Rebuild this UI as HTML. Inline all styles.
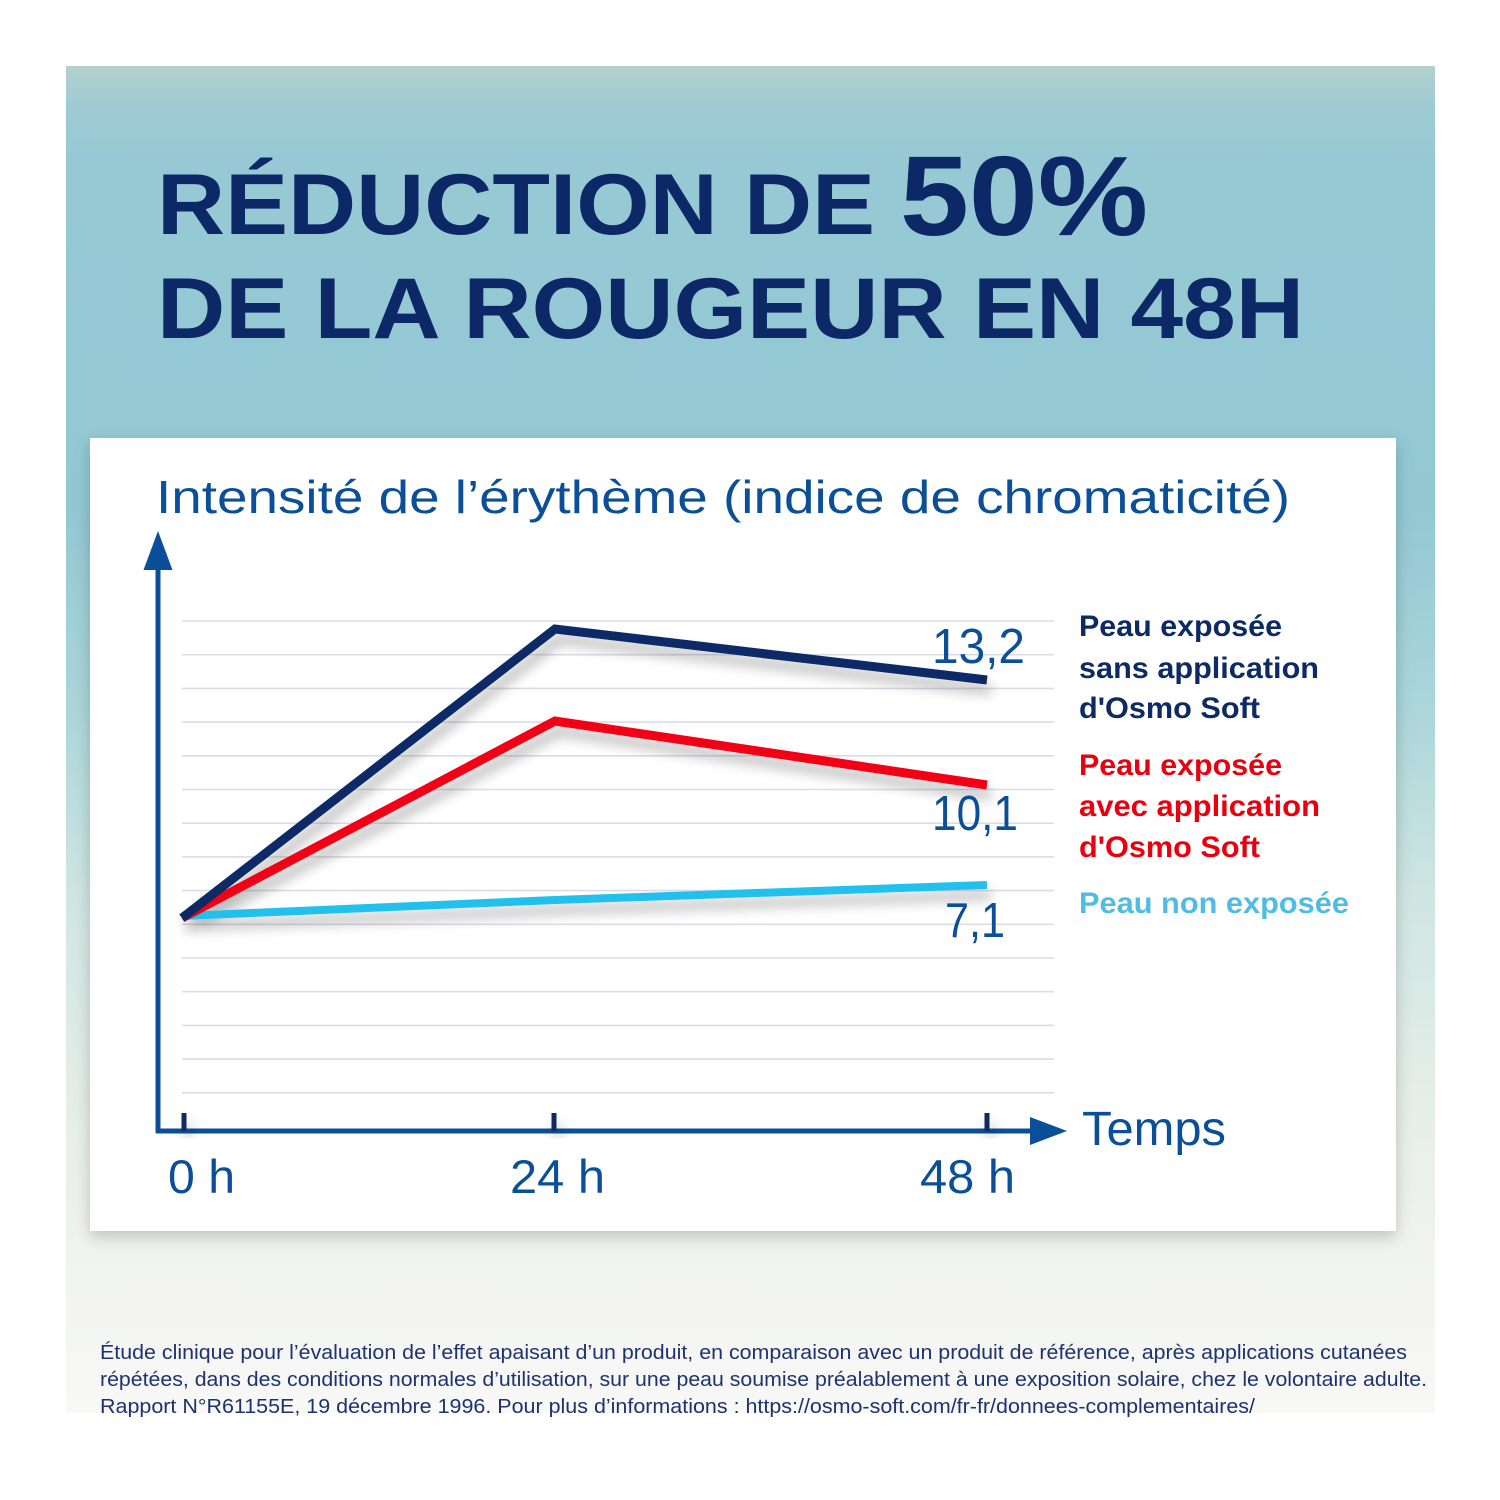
<!DOCTYPE html>
<html>
<head>
<meta charset="utf-8">
<style>
html,body{margin:0;padding:0;background:#ffffff;}
svg{display:block;}
</style>
</head>
<body>
<svg width="1500" height="1500" viewBox="0 0 1500 1500" xmlns="http://www.w3.org/2000/svg">
  <defs>
    <linearGradient id="bg" x1="0" y1="0" x2="0" y2="1" gradientUnits="objectBoundingBox">
      <stop offset="0" stop-color="#b3d0cc"/>
      <stop offset="0.03" stop-color="#9fcbd3"/>
      <stop offset="0.07" stop-color="#96c9d4"/>
      <stop offset="0.33" stop-color="#93c8d3"/>
      <stop offset="0.48" stop-color="#acd6da"/>
      <stop offset="0.62" stop-color="#d0e6e2"/>
      <stop offset="0.78" stop-color="#e7eee9"/>
      <stop offset="0.88" stop-color="#f1f3f0"/>
      <stop offset="1" stop-color="#f8f8f6"/>
    </linearGradient>
    <filter id="cardShadow" x="-5%" y="-5%" width="110%" height="115%">
      <feDropShadow dx="0" dy="6" stdDeviation="8" flood-color="#000" flood-opacity="0.2"/>
    </filter>
    <filter id="lineShadow" x="-10%" y="-20%" width="120%" height="160%">
      <feDropShadow dx="4" dy="10" stdDeviation="6" flood-color="#000" flood-opacity="0.28"/>
    </filter>
  </defs>

  <!-- background panel -->
  <rect x="66" y="66" width="1369" height="1347" fill="url(#bg)"/>

  <!-- Title -->
  <g fill="#0c2866" font-family="'Liberation Sans', sans-serif" font-weight="bold">
    <text x="157" y="234" font-size="86" textLength="718" lengthAdjust="spacingAndGlyphs">RÉDUCTION DE</text>
    <text x="900" y="235" font-size="113" textLength="248" lengthAdjust="spacingAndGlyphs">50%</text>
    <text x="157" y="338" font-size="86" textLength="1147" lengthAdjust="spacingAndGlyphs">DE LA ROUGEUR EN 48H</text>
  </g>

  <!-- Card -->
  <rect x="90" y="438" width="1306" height="793" fill="#ffffff" filter="url(#cardShadow)"/>

  <!-- Axis title -->
  <text x="156" y="513" font-size="46" fill="#0b4f99" font-family="'Liberation Sans', sans-serif" textLength="1134" lengthAdjust="spacingAndGlyphs">Intensité de l’érythème (indice de chromaticité)</text>

  <!-- gridlines -->
  <g stroke="#dcdce8" stroke-width="1.6">
    <line x1="182" y1="621" x2="1054" y2="621"/>
    <line x1="182" y1="654.7" x2="1054" y2="654.7"/>
    <line x1="182" y1="688.4" x2="1054" y2="688.4"/>
    <line x1="182" y1="722.1" x2="1054" y2="722.1"/>
    <line x1="182" y1="755.8" x2="1054" y2="755.8"/>
    <line x1="182" y1="789.5" x2="1054" y2="789.5"/>
    <line x1="182" y1="823.2" x2="1054" y2="823.2"/>
    <line x1="182" y1="856.9" x2="1054" y2="856.9"/>
    <line x1="182" y1="890.6" x2="1054" y2="890.6"/>
    <line x1="182" y1="924.3" x2="1054" y2="924.3"/>
    <line x1="182" y1="958" x2="1054" y2="958"/>
    <line x1="182" y1="991.7" x2="1054" y2="991.7"/>
    <line x1="182" y1="1025.4" x2="1054" y2="1025.4"/>
    <line x1="182" y1="1059.1" x2="1054" y2="1059.1"/>
    <line x1="182" y1="1092.8" x2="1054" y2="1092.8"/>
  </g>

  <!-- axes -->
  <g fill="#0b4f99" stroke="none">
    <rect x="155.5" y="565" width="5" height="568"/>
    <polygon points="158,531 143.5,570 172.5,570"/>
    <rect x="156" y="1128.5" width="880" height="5"/>
    <polygon points="1067,1131 1030,1117 1030,1145"/>
  </g>
  <!-- ticks -->
  <g fill="#0d2a63" filter="url(#lineShadow)">
    <rect x="181.5" y="1113" width="5" height="18"/>
    <rect x="551.5" y="1113" width="5" height="18"/>
    <rect x="984.5" y="1113" width="5" height="18"/>
  </g>

  <!-- series -->
  <g fill="none" stroke-linejoin="miter" stroke-linecap="butt" filter="url(#lineShadow)">
    <polyline points="182,916 555,900 987,885" stroke="#22c0ec" stroke-width="8"/>
    <polyline points="182,918 555,721 987,785" stroke="#f20012" stroke-width="9"/>
    <polyline points="182,918 555,629 987,680" stroke="#0c2a66" stroke-width="9"/>
  </g>

  <!-- value labels -->
  <g fill="#0b4f99" font-family="'Liberation Sans', sans-serif" font-size="49">
    <text x="932" y="663" textLength="93" lengthAdjust="spacingAndGlyphs">13,2</text>
    <text x="932" y="830" textLength="86" lengthAdjust="spacingAndGlyphs">10,1</text>
    <text x="945" y="937" textLength="60" lengthAdjust="spacingAndGlyphs">7,1</text>
  </g>

  <!-- legend -->
  <g font-family="'Liberation Sans', sans-serif" font-weight="bold" font-size="30">
    <g fill="#0d2a63">
      <text x="1079" y="636" textLength="203" lengthAdjust="spacingAndGlyphs">Peau exposée</text>
      <text x="1079" y="678" textLength="240" lengthAdjust="spacingAndGlyphs">sans application</text>
      <text x="1079" y="718" textLength="181" lengthAdjust="spacingAndGlyphs">d'Osmo Soft</text>
    </g>
    <g fill="#e8000f">
      <text x="1079" y="775" textLength="203" lengthAdjust="spacingAndGlyphs">Peau exposée</text>
      <text x="1079" y="816" textLength="241" lengthAdjust="spacingAndGlyphs">avec application</text>
      <text x="1079" y="857" textLength="181" lengthAdjust="spacingAndGlyphs">d'Osmo Soft</text>
    </g>
    <text x="1079" y="913" fill="#4fbde3" textLength="270" lengthAdjust="spacingAndGlyphs">Peau non exposée</text>
  </g>

  <!-- x labels -->
  <g fill="#0b4f99" font-family="'Liberation Sans', sans-serif" font-size="47">
    <text x="168" y="1193" textLength="67" lengthAdjust="spacingAndGlyphs">0 h</text>
    <text x="510" y="1193" textLength="95" lengthAdjust="spacingAndGlyphs">24 h</text>
    <text x="920" y="1193" textLength="95" lengthAdjust="spacingAndGlyphs">48 h</text>
    <text x="1082" y="1145" font-size="48" textLength="144" lengthAdjust="spacingAndGlyphs">Temps</text>
  </g>

  <!-- footer -->
  <g fill="#1d3370" font-family="'Liberation Sans', sans-serif" font-size="20">
    <text x="100" y="1359" textLength="1307" lengthAdjust="spacingAndGlyphs">Étude clinique pour l’évaluation de l’effet apaisant d’un produit, en comparaison avec un produit de référence, après applications cutanées</text>
    <text x="100" y="1386" textLength="1327" lengthAdjust="spacingAndGlyphs">répétées, dans des conditions normales d’utilisation, sur une peau soumise préalablement à une exposition solaire, chez le volontaire adulte.</text>
    <text x="100" y="1413" textLength="1155" lengthAdjust="spacingAndGlyphs">Rapport N°R61155E, 19 décembre 1996. Pour plus d’informations : https://osmo-soft.com/fr-fr/donnees-complementaires/</text>
  </g>
</svg>
</body>
</html>
